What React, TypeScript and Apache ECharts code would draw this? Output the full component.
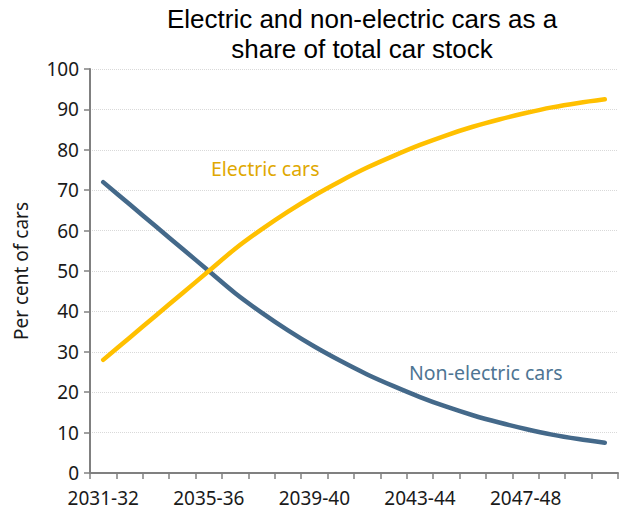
import React, { useEffect, useRef } from "react";
import * as echarts from "echarts";

const categories = [
  "2031-32", "2032-33", "2033-34", "2034-35", "2035-36", "2036-37", "2037-38",
  "2038-39", "2039-40", "2040-41", "2041-42", "2042-43", "2043-44", "2044-45",
  "2045-46", "2046-47", "2047-48", "2048-49", "2049-50", "2050-51",
];
const electric = [
  28, 33.5, 39, 44.5, 50, 55.5, 60.3, 64.7, 68.7, 72.3, 75.6, 78.5, 81.2, 83.6,
  85.7, 87.5, 89.1, 90.5, 91.6, 92.5,
];
const nonElectric = [
  72, 66.5, 61, 55.5, 50, 44.5, 39.7, 35.3, 31.3, 27.7, 24.4, 21.5, 18.8, 16.4,
  14.3, 12.5, 10.9, 9.5, 8.4, 7.5,
];
const titleLines = ["Electric and non-electric cars as a", "share of total car stock"];
const yAxisName = "Per cent of cars";
const electricLabel = "Electric cars";
const nonElectricLabel = "Non-electric cars";

const FONT = "'Noto Sans', sans-serif";
const TITLE_FONT = "'Liberation Sans', Arial, sans-serif";
const YELLOW = "#FFC000";
const BLUE = "#44698A";

export default function App() {
  const ref = useRef<HTMLDivElement>(null);
  useEffect(() => {
    if (!ref.current) return;
    const chart = echarts.init(ref.current, undefined, { renderer: "svg" });
    const titleStyle = {
      fontFamily: TITLE_FONT,
      fontSize: 26,
      lineHeight: 28,
      fontWeight: "normal",
      color: "#000000",
    };
    chart.setOption({
      animation: false,
      backgroundColor: "#ffffff",
      title: titleLines.map((t, i) => ({
        text: t,
        left: 362,
        top: 5 + i * 30,
        padding: 0,
        textAlign: "center",
        textStyle: titleStyle,
      })),
      grid: { left: 90, right: 1, top: 69, bottom: 41, containLabel: false },
      xAxis: {
        type: "category",
        data: categories,
        boundaryGap: true,
        axisLine: { lineStyle: { color: "#808080", width: 2 } },
        axisTick: { show: true, interval: 0, length: 6, lineStyle: { color: "#808080", width: 1.5 } },
        axisLabel: {
          interval: 3,
          fontFamily: FONT,
          fontSize: 19,
          color: "#1a1a1a",
          margin: 15,
        },
        splitLine: { show: false },
      },
      yAxis: {
        type: "value",
        min: 0,
        max: 100,
        interval: 10,
        name: yAxisName,
        nameLocation: "middle",
        nameGap: 60,
        nameTextStyle: { fontFamily: FONT, fontSize: 19, color: "#1a1a1a" },
        axisLine: { show: true, lineStyle: { color: "#808080", width: 2 } },
        axisTick: { show: true, length: 6, lineStyle: { color: "#808080", width: 1.5 } },
        axisLabel: { fontFamily: FONT, fontSize: 19, color: "#1a1a1a", margin: 11 },
        splitLine: { show: true, lineStyle: { color: "#d9d9d9", type: "dotted", width: 1 } },
      },
      series: [
        {
          name: electricLabel,
          type: "line",
          data: electric,
          smooth: 0.3,
          symbol: "none",
          lineStyle: { color: YELLOW, width: 4.5, cap: "round" },
          z: 3,
        },
        {
          name: nonElectricLabel,
          type: "line",
          data: nonElectric,
          smooth: 0.3,
          symbol: "none",
          lineStyle: { color: BLUE, width: 4.5, cap: "round" },
          z: 2,
        },
      ],
      graphic: [
        {
          type: "text",
          left: 211,
          top: 158,
          style: { text: electricLabel, fontFamily: FONT, fontSize: 19.5, fill: "#E0A800" },
        },
        {
          type: "text",
          left: 409,
          top: 362,
          style: { text: nonElectricLabel, fontFamily: FONT, fontSize: 19.5, fill: "#4E7593" },
        },
      ],
    });
    return () => chart.dispose();
  }, []);
  return <div ref={ref} style={{ width: 619, height: 514, position: "absolute", left: 0, top: 0 }} />;
}
